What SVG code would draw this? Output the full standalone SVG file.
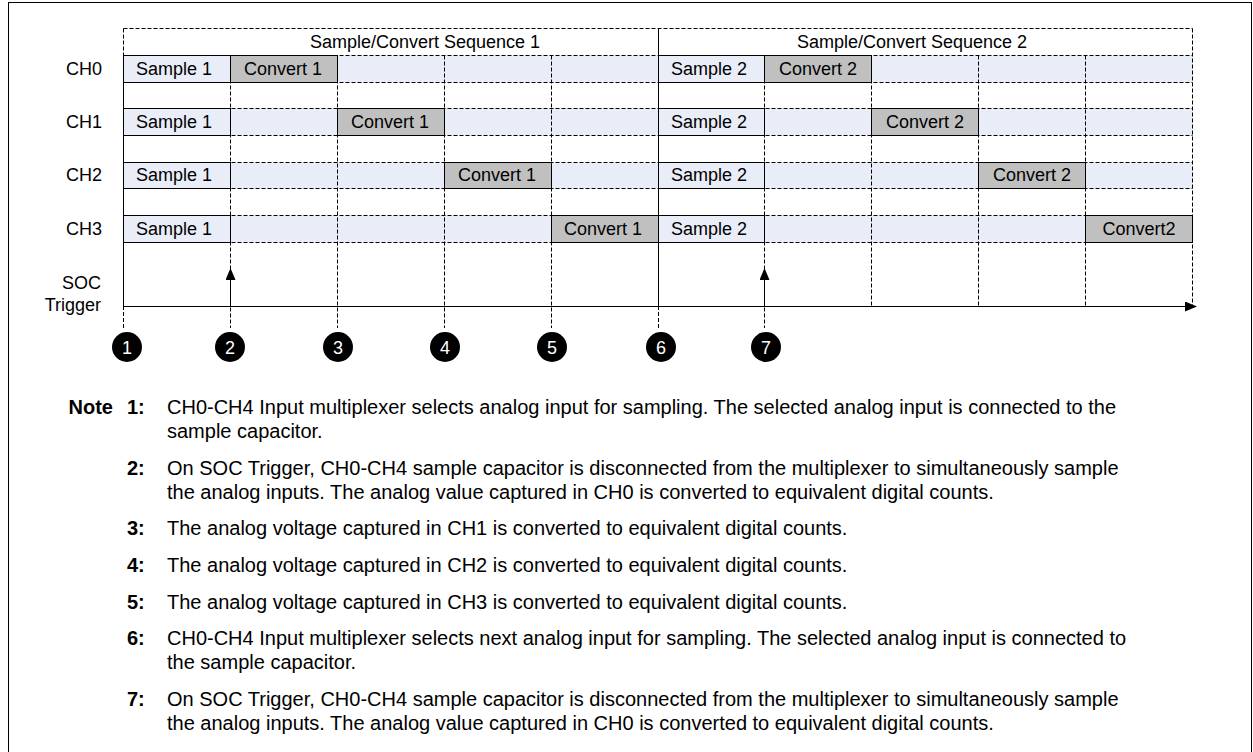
<svg xmlns="http://www.w3.org/2000/svg" width="1253" height="752" viewBox="0 0 1253 752">
<style>
text{font-family:"Liberation Sans",Arial,sans-serif;fill:#000}
.t{font-size:18px}
.c{text-anchor:middle}
.e{text-anchor:end}
.n{font-size:20px}
.b{font-weight:bold}
.d{stroke:#000;stroke-width:1;stroke-dasharray:4 2;fill:none}
.s{stroke:#000;stroke-width:1;fill:none}
.row{fill:#e9edf8}
.smp{fill:#e9edf8;stroke:#000;stroke-width:1}
.cnv{fill:#c0c0c0;stroke:#000;stroke-width:1}
.num{fill:#fff;font-size:18px;text-anchor:middle}
</style>
<defs>
<marker id="ah" markerWidth="12" markerHeight="10" refX="11" refY="5" orient="auto" markerUnits="userSpaceOnUse"><path d="M0,0 L12,5 L0,10 Z" fill="#000"/></marker>
</defs>
<rect x="8.5" y="2.5" width="1243" height="800" fill="#fff" stroke="#000"/>

<g id="grid">
<rect class="row" x="123.5" y="55.5" width="1069" height="27"/>
<rect class="row" x="123.5" y="108.5" width="1069" height="27"/>
<rect class="row" x="123.5" y="162.5" width="1069" height="26"/>
<rect class="row" x="123.5" y="215.5" width="1069" height="27"/>
<path class="d" d="M123.5,28.5H1192.5M123.5,55.5H1192.5M123.5,82.5H1192.5M123.5,108.5H1192.5M123.5,135.5H1192.5M123.5,162.5H1192.5M123.5,188.5H1192.5M123.5,215.5H1192.5M123.5,242.5H1192.5"/>
<path class="d" d="M230.5,55.5V328M337.5,55.5V328M444.5,55.5V328M551.5,55.5V328M764.5,55.5V328M871.5,55.5V306M978.5,55.5V306M1085.5,55.5V306M1192.5,28.5V306M123.5,28.5V55.5M123.5,306V328M658.5,306V330"/>
<path class="s" d="M123.5,55.5V306M658.5,28.5V306"/>
</g>

<g id="header">
<text class="t c" x="425" y="48">Sample/Convert Sequence 1</text>
<text class="t c" x="912" y="48">Sample/Convert Sequence 2</text>
</g>

<g id="labels">
<text class="t e" x="102" y="75">CH0</text>
<text class="t e" x="102" y="128">CH1</text>
<text class="t e" x="102" y="181">CH2</text>
<text class="t e" x="102" y="235">CH3</text>
<text class="t e" x="101" y="289">SOC</text>
<text class="t e" x="101" y="311">Trigger</text>
</g>

<g id="ch0">
<rect class="smp" x="123.5" y="55.5" width="107" height="27"/><text class="t c" x="174" y="75">Sample 1</text>
<rect class="cnv" x="230.5" y="55.5" width="107" height="27"/><text class="t c" x="283" y="75">Convert 1</text>
<rect class="smp" x="658.5" y="55.5" width="106" height="27"/><text class="t c" x="709" y="75">Sample 2</text>
<rect class="cnv" x="764.5" y="55.5" width="107" height="27"/><text class="t c" x="818" y="75">Convert 2</text>
</g>
<g id="ch1">
<rect class="smp" x="123.5" y="108.5" width="107" height="27"/><text class="t c" x="174" y="128">Sample 1</text>
<rect class="cnv" x="337.5" y="108.5" width="107" height="27"/><text class="t c" x="390" y="128">Convert 1</text>
<rect class="smp" x="658.5" y="108.5" width="106" height="27"/><text class="t c" x="709" y="128">Sample 2</text>
<rect class="cnv" x="871.5" y="108.5" width="107" height="27"/><text class="t c" x="925" y="128">Convert 2</text>
</g>
<g id="ch2">
<rect class="smp" x="123.5" y="162.5" width="107" height="26"/><text class="t c" x="174" y="181">Sample 1</text>
<rect class="cnv" x="444.5" y="162.5" width="107" height="26"/><text class="t c" x="497" y="181">Convert 1</text>
<rect class="smp" x="658.5" y="162.5" width="106" height="26"/><text class="t c" x="709" y="181">Sample 2</text>
<rect class="cnv" x="978.5" y="162.5" width="107" height="26"/><text class="t c" x="1032" y="181">Convert 2</text>
</g>
<g id="ch3">
<rect class="smp" x="123.5" y="215.5" width="107" height="27"/><text class="t c" x="174" y="235">Sample 1</text>
<rect class="cnv" x="551.5" y="215.5" width="107" height="27"/><text class="t c" x="603" y="235">Convert 1</text>
<rect class="smp" x="658.5" y="215.5" width="106" height="27"/><text class="t c" x="709" y="235">Sample 2</text>
<rect class="cnv" x="1085.5" y="215.5" width="107" height="27"/><text class="t c" x="1139" y="235">Convert2</text>
</g>

<g id="connectors">
<path class="s" d="M123.5,306.5H1196" marker-end="url(#ah)"/>
<path class="s" d="M230.5,306.5V269" marker-end="url(#ah)"/>
<path class="s" d="M764.5,306.5V269" marker-end="url(#ah)"/>
</g>

<g id="markers">
<g id="m1"><circle cx="127" cy="347" r="15"/><text class="num" x="127" y="353.5">1</text></g>
<g id="m2"><circle cx="230" cy="347" r="15"/><text class="num" x="230" y="353.5">2</text></g>
<g id="m3"><circle cx="338" cy="347" r="15"/><text class="num" x="338" y="353.5">3</text></g>
<g id="m4"><circle cx="445" cy="347" r="15"/><text class="num" x="445" y="353.5">4</text></g>
<g id="m5"><circle cx="552" cy="347" r="15"/><text class="num" x="552" y="353.5">5</text></g>
<g id="m6"><circle cx="661" cy="347" r="15"/><text class="num" x="661" y="353.5">6</text></g>
<g id="m7"><circle cx="766" cy="347" r="15"/><text class="num" x="766" y="353.5">7</text></g>
</g>

<g id="notes">
<text class="n b e" x="113" y="414">Note</text>
<text class="n b" x="127" y="414">1:</text>
<text class="n" x="167" y="414">CH0-CH4 Input multiplexer selects analog input for sampling. The selected analog input is connected to the</text>
<text class="n" x="167" y="438">sample capacitor.</text>
<text class="n b" x="127" y="475">2:</text>
<text class="n" x="167" y="475">On SOC Trigger, CH0-CH4 sample capacitor is disconnected from the multiplexer to simultaneously sample</text>
<text class="n" x="167" y="499">the analog inputs. The analog value captured in CH0 is converted to equivalent digital counts.</text>
<text class="n b" x="127" y="535">3:</text>
<text class="n" x="167" y="535">The analog voltage captured in CH1 is converted to equivalent digital counts.</text>
<text class="n b" x="127" y="572">4:</text>
<text class="n" x="167" y="572">The analog voltage captured in CH2 is converted to equivalent digital counts.</text>
<text class="n b" x="127" y="609">5:</text>
<text class="n" x="167" y="609">The analog voltage captured in CH3 is converted to equivalent digital counts.</text>
<text class="n b" x="127" y="645">6:</text>
<text class="n" x="167" y="645">CH0-CH4 Input multiplexer selects next analog input for sampling. The selected analog input is connected to</text>
<text class="n" x="167" y="669">the sample capacitor.</text>
<text class="n b" x="127" y="706">7:</text>
<text class="n" x="167" y="706">On SOC Trigger, CH0-CH4 sample capacitor is disconnected from the multiplexer to simultaneously sample</text>
<text class="n" x="167" y="730">the analog inputs. The analog value captured in CH0 is converted to equivalent digital counts.</text>
</g>
</svg>
